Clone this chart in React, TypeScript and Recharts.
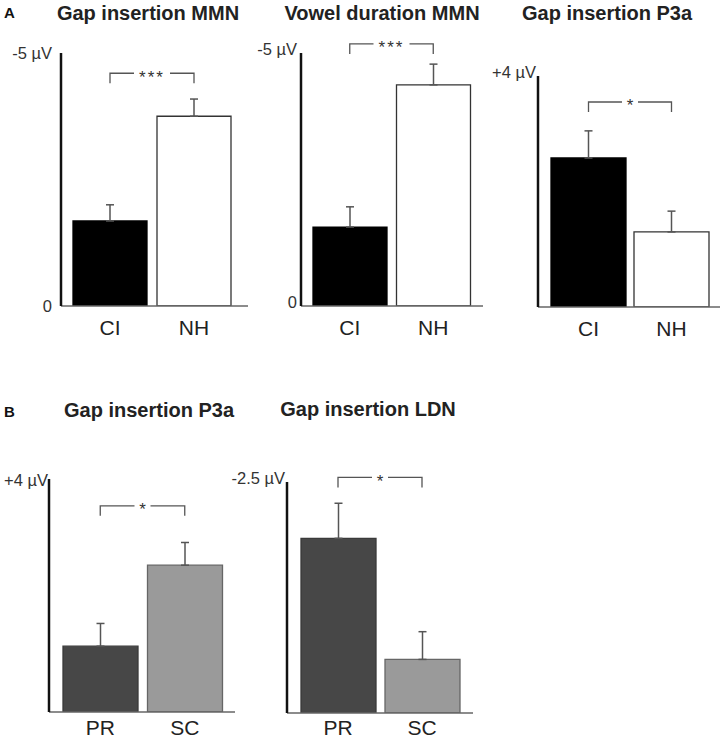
import { Bar, BarChart, Cell, ErrorBar, ReferenceLine, XAxis, YAxis } from 'recharts';

// magnitudes in µV (MMN / LDN are negative peaks, P3a positive)
const groupsA = ['CI', 'NH'];
const groupsB = ['PR', 'SC'];

const gapMmnMeans = [1.68, 3.75];
const gapMmnErrors = [0.32, 0.34];
const vowelMmnMeans = [1.56, 4.37];
const vowelMmnErrors = [0.4, 0.41];
const gapP3aMeans = [2.58, 1.3];
const gapP3aErrors = [0.47, 0.36];
const gapP3aSubMeans = [1.13, 2.52];
const gapP3aSubErrors = [0.39, 0.39];
const gapLdnSubMeans = [1.89, 0.58];
const gapLdnSubErrors = [0.38, 0.3];

const titles = ['Gap insertion MMN', 'Vowel duration MMN', 'Gap insertion P3a', 'Gap insertion P3a', 'Gap insertion LDN'];
const yMax = [5, 5, 4, 4, 2.5];
const yTopLabels = ['-5 µV', '-5 µV', '+4 µV', '+4 µV', '-2.5 µV'];
const yZeroLabels = ['0', '0', '', '', ''];
const stars = ['***', '***', '*', '*', '*'];
const bracketLevels = [4.6, 5.18, 3.55, 3.54, 2.55];

const FONT = '"Liberation Sans", Arial, Helvetica, sans-serif';
const fillsA = ['#000000', '#ffffff'];
const strokesA = ['#000000', '#333333'];
const fillsB = ['#474747', '#9a9a9a'];
const strokesB = ['#3a3a3a', '#666666'];

const YW = 80;
const MT = 30;
const MR = 4;
const XH = 34;

// layout of each panel: axis corner, top, right end of baseline
const layout = [
  { x: 61, top: 53, bottom: 306, right: 248, pad: [7, 12], bar: 74, dx: 9, dy: 0, gap: 14, titleX: 148, titleY: 13 },
  { x: 301, top: 53, bottom: 306, right: 483, pad: [7, 8], bar: 74, dx: 4, dy: -4, gap: 14, titleX: 382, titleY: 13 },
  { x: 538, top: 76, bottom: 307, right: 720, pad: [9, 7], bar: 75, dx: 2, dy: -4, gap: 14, titleX: 607, titleY: 13 },
  { x: 49, top: 479, bottom: 712, right: 235, pad: [9, 8], bar: 75, dx: 1, dy: 1, gap: 8, titleX: 149, titleY: 410 },
  { x: 287, top: 482, bottom: 713, right: 473, pad: [9, 9], bar: 75, dx: 2, dy: -4, gap: 7, titleX: 368, titleY: 409 },
];

const panels = [
  { cats: groupsA, means: gapMmnMeans, errs: gapMmnErrors, fills: fillsA, strokes: strokesA },
  { cats: groupsA, means: vowelMmnMeans, errs: vowelMmnErrors, fills: fillsA, strokes: strokesA },
  { cats: groupsA, means: gapP3aMeans, errs: gapP3aErrors, fills: fillsA, strokes: strokesA },
  { cats: groupsB, means: gapP3aSubMeans, errs: gapP3aSubErrors, fills: fillsB, strokes: strokesB },
  { cats: groupsB, means: gapLdnSubMeans, errs: gapLdnSubErrors, fills: fillsB, strokes: strokesB },
];

function bracket(label: string) {
  const gap = label.length > 1 ? 36 : 16;
  return (p: any) => {
    const { x1, y1, x2 } = p;
    const mid = (x1 + x2) / 2;
    return (
      <g>
        <path
          d={`M${x1},${y1 + 10}V${y1}H${mid - gap / 2}M${mid + gap / 2},${y1}H${x2}V${y1 + 10}`}
          stroke="#555"
          strokeWidth={1.3}
          fill="none"
        />
        <text x={mid} y={y1} dy="0.55em" textAnchor="middle" fontSize={17} letterSpacing={label.length > 1 ? 2 : 0} fill="#333" fontFamily={FONT}>
          {label}
        </text>
      </g>
    );
  };
}

function Panel({ i }: { i: number }) {
  const p = panels[i];
  const l = layout[i];
  const data = p.cats.map((c, k) => ({ name: c, value: p.means[k], err: [0, p.errs[k]] }));
  const w = YW + (l.right - l.x) + MR;
  const h = MT + (l.bottom - l.top) + XH;

  const yTick = (t: any) => {
    const label = t.payload.value === 0 ? yZeroLabels[i] : yTopLabels[i];
    return (
      <text x={t.x - l.dx} y={t.y + l.dy} dy="0.35em" textAnchor="end" fontSize={16.5} fill="#333" fontFamily={FONT}>
        {label}
      </text>
    );
  };

  return (
    <div style={{ position: 'absolute', left: l.x - YW, top: l.top - MT }}>
      <BarChart width={w} height={h} data={data} margin={{ top: MT, right: MR, left: 0, bottom: 0 }}>
        <XAxis
          dataKey="name"
          padding={{ left: l.pad[0], right: l.pad[1] }}
          height={XH}
          tickLine={false}
          tickSize={0}
          tickMargin={l.gap}
          axisLine={{ stroke: '#666', strokeWidth: 1.3 }}
          tick={{ fontSize: 21, fill: '#222', fontFamily: FONT }}
        />
        <YAxis
          width={YW}
          domain={[0, yMax[i]]}
          allowDataOverflow
          ticks={[0, yMax[i]]}
          interval={0}
          tickLine={false}
          tickSize={0}
          tickMargin={0}
          axisLine={{ stroke: '#111', strokeWidth: 2.5 }}
          tick={yTick}
        />
        <Bar dataKey="value" barSize={l.bar} isAnimationActive={false}>
          {data.map((d, k) => (
            <Cell key={d.name} fill={p.fills[k]} stroke={p.strokes[k]} strokeWidth={1.3} />
          ))}
          <ErrorBar dataKey="err" direction="y" width={4} stroke="#555" strokeWidth={1.5} isAnimationActive={false} />
        </Bar>
        <ReferenceLine
          segment={[
            { x: p.cats[0], y: bracketLevels[i] },
            { x: p.cats[1], y: bracketLevels[i] },
          ]}
          ifOverflow="visible"
          shape={bracket(stars[i])}
        />
      </BarChart>
    </div>
  );
}

export default function App() {
  return (
    <div style={{ position: 'absolute', left: 0, top: 0, width: 725, height: 740, background: '#fff', fontFamily: FONT }}>
      <div style={{ position: 'absolute', left: 4, top: 4, fontSize: 15, fontWeight: 700, lineHeight: '18px', color: '#111' }}>A</div>
      <div style={{ position: 'absolute', left: 4, top: 403, fontSize: 15, fontWeight: 700, lineHeight: '18px', color: '#111' }}>B</div>
      {layout.map((l, i) => (
        <div
          key={i}
          style={{
            position: 'absolute',
            left: l.titleX - 150,
            width: 300,
            top: l.titleY - 10,
            textAlign: 'center',
            fontSize: 20,
            fontWeight: 700,
            lineHeight: '20px',
            color: '#222',
          }}
        >
          {titles[i]}
        </div>
      ))}
      {panels.map((_, i) => (
        <Panel key={i} i={i} />
      ))}
    </div>
  );
}
